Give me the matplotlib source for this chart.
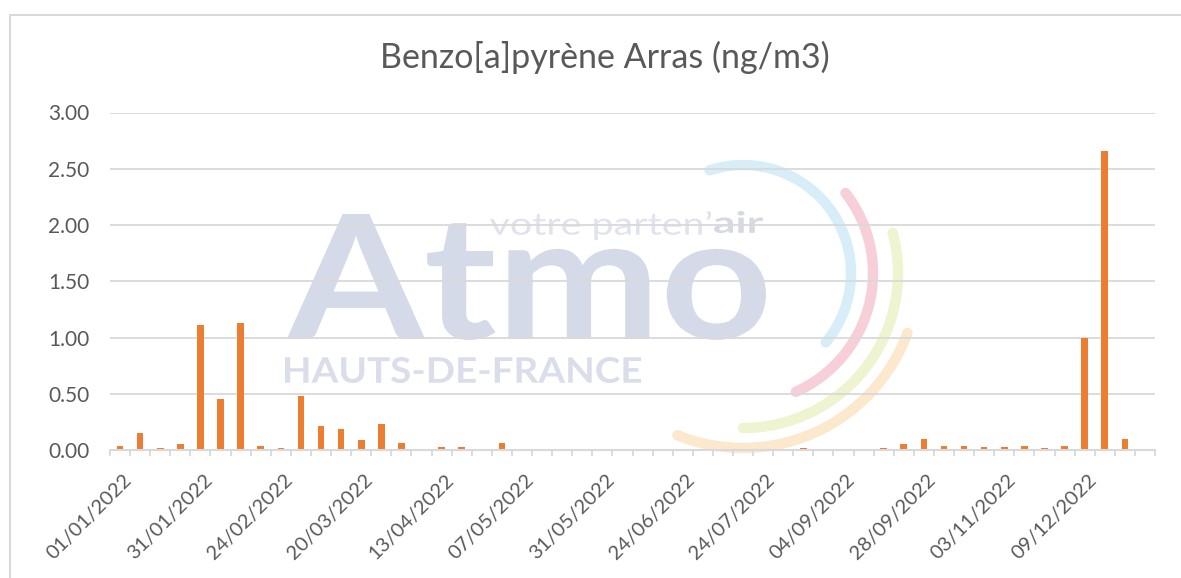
import numpy as np
import matplotlib
matplotlib.use("Agg")
import matplotlib.pyplot as plt
from matplotlib.patches import Arc, PathPatch
from matplotlib.textpath import TextPath
from matplotlib.font_manager import FontProperties
from matplotlib.transforms import Affine2D

plt.rcParams['font.family'] = ['Lato', 'DejaVu Sans']

# sampling dates (only every 4th one is labelled on the axis)
dates = [
    "01/01/2022", "07/01/2022", "13/01/2022", "19/01/2022",
    "31/01/2022", "06/02/2022", "12/02/2022", "18/02/2022",
    "24/02/2022", "02/03/2022", "08/03/2022", "14/03/2022",
    "20/03/2022", "26/03/2022", "01/04/2022", "07/04/2022",
    "13/04/2022", "19/04/2022", "25/04/2022", "01/05/2022",
    "07/05/2022", "13/05/2022", "19/05/2022", "25/05/2022",
    "31/05/2022", "06/06/2022", "12/06/2022", "18/06/2022",
    "24/06/2022", "30/06/2022", "06/07/2022", "18/07/2022",
    "24/07/2022", "30/07/2022", "11/08/2022", "23/08/2022",
    "04/09/2022", "10/09/2022", "16/09/2022", "22/09/2022",
    "28/09/2022", "04/10/2022", "16/10/2022", "28/10/2022",
    "03/11/2022", "09/11/2022", "21/11/2022", "27/11/2022",
    "09/12/2022", "15/12/2022", "21/12/2022", "27/12/2022",
]
nan = np.nan
bap = [
    0.04, 0.15, 0.02, 0.05, 1.11, 0.45, 1.13, 0.04,
    0.02, 0.48, 0.21, 0.19, 0.09, 0.23, 0.06, nan,
    0.03, 0.03, nan, 0.06, nan, nan, nan, nan,
    nan, nan, nan, nan, nan, nan, nan, 0.01,
    nan, nan, 0.02, nan, nan, nan, 0.02, 0.05,
    0.10, 0.04, 0.04, 0.03, 0.03, 0.04, 0.02, 0.04,
    1.00, 2.66, 0.10, nan,
]
yticks = [0, 0.5, 1.0, 1.5, 2.0, 2.5, 3.0]

W, H = 1181, 578
fig = plt.figure(figsize=(W / 100, H / 100), dpi=100)

# background layer in pixel coords: chart border + watermark logo
bg = fig.add_axes([0, 0, 1, 1], zorder=0)
bg.set_xlim(0, W)
bg.set_ylim(H, 0)
bg.axis('off')
bg.plot([10, 10, W], [H, 15, 15], color='#d9d9d9', lw=1.5)


def fit_text(s, x0, x1, ytop, ybot, weight, color):
    tp = TextPath((0, 0), s, size=100, prop=FontProperties(family='Lato', weight=weight))
    ext = tp.get_extents()
    sx = (x1 - x0) / ext.width
    sy = (ybot - ytop) / ext.height
    tr = Affine2D().translate(-ext.x0, -ext.y1).scale(sx, -sy).translate(x0, ytop)
    bg.add_patch(PathPatch(tr.transform_path(tp), fc=color, ec='none'))


fit_text("Atmo", 287, 766, 214, 340, 'bold', '#d5dae9')
fit_text("HAUTS-DE-FRANCE", 285, 641, 357, 383, 'bold', '#dadeeb')
fit_text("votre parten\u2019", 490, 711, 211, 240, 'normal', '#e0e3ee')
fit_text("air", 714, 763, 211, 233, 'bold', '#d6d9e2')

cx, cy = 743, 273
arcs = [(108, -108, 40, '#d7eef8'),
        (130, -38, 66, '#f6cfd9'),
        (155, -15, 90, '#eef3d0'),
        (175, 20, 112, '#fce8cc')]
for r, t1, t2, col in arcs:
    a = Arc((cx, cy), 2 * r, 2 * r, theta1=t1, theta2=t2, color=col, lw=7.5)
    a.set_capstyle('round')
    bg.add_patch(a)

# main chart
ax = fig.add_axes([110 / W, 1 - 450 / H, 1045 / W, 337.5 / H], zorder=1)
ax.patch.set_alpha(0)
x = np.arange(len(dates))
ax.bar(x, bap, width=0.33, color='#ed7d31', zorder=3)
ax.set_xlim(-0.5, len(dates) - 0.5)
ax.set_ylim(0, 3)
ax.set_yticks(yticks)
ax.set_yticklabels([f"{v:.2f}" for v in yticks])
ax.yaxis.grid(True, color='#d9d9d9', lw=1.3)
ax.set_axisbelow(True)
for s in ['top', 'right', 'left']:
    ax.spines[s].set_visible(False)
ax.spines['bottom'].set_color('#d9d9d9')
ax.spines['bottom'].set_linewidth(1.5)
ax.spines['bottom'].set_zorder(4)
ax.tick_params(axis='y', length=0, pad=15, labelsize=15, labelcolor='#595959')

ax.set_xticks(x[::4] + 0.15)
ax.set_xticklabels(dates[::4], rotation=45, ha='right', va='top',
                   rotation_mode='anchor', fontsize=14.5, color='#595959')
ax.set_xticks(np.arange(-0.5, len(dates)), minor=True)
ax.tick_params(axis='x', which='major', length=0, pad=15)
ax.tick_params(axis='x', which='minor', length=4.5, width=1.3, color='#d9d9d9')

fig.text(605 / W, 1 - 67.5 / H, "Benzo[a]pyrène Arras (ng/m3)", ha='center', va='baseline',
         fontsize=24.5, color='#595959')

fig.savefig("out.png", dpi=100)
